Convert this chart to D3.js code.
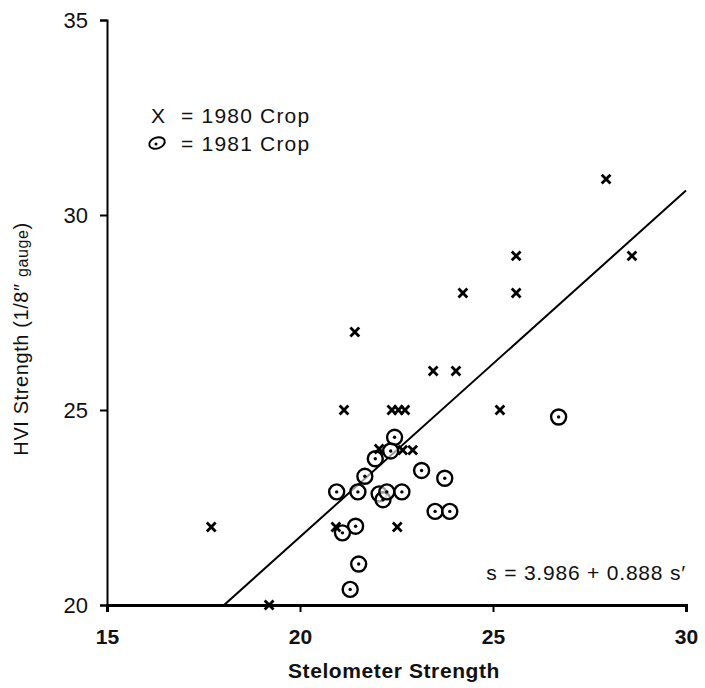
<!DOCTYPE html>
<html><head><meta charset="utf-8">
<script src="https://cdn.jsdelivr.net/npm/d3@7"></script>
<style>body{margin:0;background:#fff}svg{display:block;font-family:"Liberation Sans",Arial,sans-serif}</style>
</head><body>
<script>
const xTicks = [15, 20, 25, 30];
const yTicks = [20, 25, 30, 35];
const x1980 = [17.7, 19.2, 21.42, 21.14, 22.38, 22.55, 22.72, 23.45, 24.04, 24.22, 25.6, 25.6, 25.18, 27.93, 28.6, 20.93, 22.52, 22.66, 22.92, 22.05];
const y1980 = [22.0, 20.0, 27.0, 25.0, 25.0, 25.0, 25.0, 26.0, 26.0, 28.0, 28.95, 28.0, 25.0, 30.92, 28.95, 22.0, 22.0, 23.97, 23.97, 24.0];
const x1981 = [26.7, 22.45, 22.35, 21.95, 21.68, 20.95, 21.5, 22.05, 22.15, 22.25, 22.64, 23.15, 23.75, 23.5, 23.88, 21.44, 21.1, 21.52, 21.3];
const y1981 = [24.82, 24.3, 23.95, 23.75, 23.3, 22.9, 22.9, 22.85, 22.7, 22.9, 22.9, 23.45, 23.25, 22.4, 22.4, 22.02, 21.85, 21.05, 20.4];
const intercept = 3.986, slope = 0.888;

const W = 705, H = 688;
const svg = d3.select("body").append("svg").attr("width", W).attr("height", H);
const x = d3.scaleLinear().domain([15, 30]).range([107, 686]);
const y = d3.scaleLinear().domain([20, 35]).range([605, 20]);

// axes
const yAxis = svg.append("g").attr("transform", `translate(${x(15)},0)`)
  .call(d3.axisLeft(y).tickValues(yTicks).tickSize(7).tickPadding(12));
yAxis.select(".domain").attr("stroke-width", 2);
const xAxis = svg.append("g").attr("transform", `translate(0,${y(20)})`)
  .call(d3.axisBottom(x).tickValues(xTicks).tickSize(7).tickPadding(17));
xAxis.select(".domain").attr("stroke-width", 3);
svg.selectAll(".tick line").attr("stroke-width", 2);
svg.selectAll(".tick text").attr("font-size", 22).attr("fill", "#111");
xAxis.selectAll(".tick text").attr("font-weight", "bold").attr("font-size", 21);

// regression line
const x0 = (20 - intercept) / slope;
svg.append("line")
  .attr("x1", x(x0)).attr("y1", y(intercept + slope * x0))
  .attr("x2", x(30)).attr("y2", y(intercept + slope * 30))
  .attr("stroke", "#000").attr("stroke-width", 2);

// 1981 circles
const g81 = svg.append("g");
x1981.forEach((v, i) => {
  g81.append("circle").attr("cx", x(v)).attr("cy", y(y1981[i])).attr("r", 7.5)
    .attr("fill", "#fff").attr("fill-opacity", 0.6).attr("stroke", "#000").attr("stroke-width", 2.4);
  g81.append("circle").attr("cx", x(v)).attr("cy", y(y1981[i])).attr("r", 1.7).attr("fill", "#000");
});

// 1980 crosses
const g80 = svg.append("g");
x1980.forEach((v, i) => {
  const cx = x(v), cy = y(y1980[i]), s = 4.4;
  g80.append("path").attr("d", `M${cx-s},${cy-s}L${cx+s},${cy+s}M${cx+s},${cy-s}L${cx-s},${cy+s}`)
    .attr("stroke", "#000").attr("stroke-width", 2.8);
});

// legend
svg.append("text").attr("x", 151).attr("y", 123).attr("font-size", 21).attr("fill", "#111").text("X");
svg.append("text").attr("x", 181).attr("y", 123).attr("font-size", 21).attr("letter-spacing", 1.2).attr("fill", "#111").text("= 1980 Crop");
svg.append("ellipse").attr("cx", 157).attr("cy", 143).attr("rx", 8).attr("ry", 5.5)
  .attr("fill", "none").attr("stroke", "#000").attr("stroke-width", 2).attr("transform", "rotate(-20,157,143)");
svg.append("circle").attr("cx", 156).attr("cy", 144).attr("r", 1.5).attr("fill", "#000");
svg.append("text").attr("x", 181).attr("y", 151).attr("font-size", 21).attr("letter-spacing", 1.2).attr("fill", "#111").text("= 1981 Crop");

// equation
svg.append("text").attr("x", 686).attr("y", 580).attr("text-anchor", "end").attr("font-size", 21)
  .attr("letter-spacing", 0.8).attr("fill", "#111")
  .text("s = 3.986 + 0.888 s\u2032");

// axis titles
svg.append("text").attr("x", 394).attr("y", 678).attr("text-anchor", "middle").attr("font-size", 21)
  .attr("letter-spacing", 0.6).attr("font-weight", "bold").attr("fill", "#111").text("Stelometer Strength");
const yt = svg.append("text").attr("transform", "translate(28,339) rotate(-90)").attr("text-anchor", "middle")
  .attr("font-size", 20).attr("letter-spacing", 0.6).attr("fill", "#111");
yt.append("tspan").text("HVI Strength (1/8\u2033 ");
yt.append("tspan").attr("font-size", 16).text("gauge");
yt.append("tspan").text(")");
</script>
</body></html>
